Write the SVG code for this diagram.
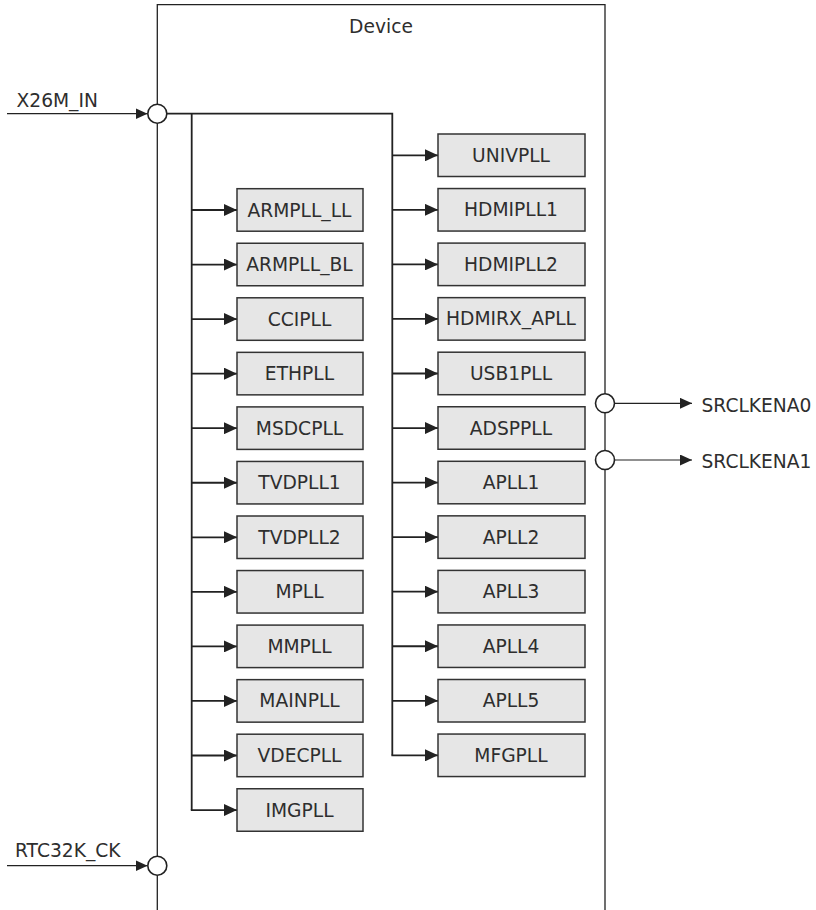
<svg xmlns="http://www.w3.org/2000/svg" width="816" height="910" viewBox="0 0 816 910">
<style>
text{font-family:"DejaVu Sans","Liberation Sans",sans-serif;font-size:18.67px;fill:#2e2e2e}
.box{fill:#e6e6e6;stroke:#333;stroke-width:1.5}
.lbl{text-anchor:middle}
.wire{fill:none;stroke:#222;stroke-width:1.8}
.thin{fill:none;stroke:#222;stroke-width:1.2}
.dev{fill:none;stroke:#222;stroke-width:1.3}
.port{fill:#fff;stroke:#222;stroke-width:1.6}
</style>
<defs>
<marker id="ah" markerUnits="userSpaceOnUse" markerWidth="13" markerHeight="12" refX="13" refY="6" orient="auto"><path d="M0,0 L13,6 L0,12 z" fill="#222"/></marker>
<marker id="ahs" markerUnits="userSpaceOnUse" markerWidth="12" markerHeight="11" refX="12" refY="5.5" orient="auto"><path d="M0,0 L12,5.5 L0,11 z" fill="#222"/></marker>
</defs>
<g id="device">
<path class="dev" d="M157.3,910 V4.7 H605 V910"/>
<text x="381" y="33" class="lbl">Device</text>
</g>
<g id="connectors">
<line class="thin" x1="7" y1="113.7" x2="147.5" y2="113.7" marker-end="url(#ahs)"/>
<line class="thin" x1="7" y1="865.7" x2="147.5" y2="865.7" marker-end="url(#ahs)"/>
<path class="wire" d="M166.5,113.7 H392.3 V755.3"/>
<path class="wire" d="M191.7,113.7 V810"/>
<line class="wire" x1="191.7" y1="210" x2="237" y2="210" marker-end="url(#ah)"/>
<line class="wire" x1="191.7" y1="264.55" x2="237" y2="264.55" marker-end="url(#ah)"/>
<line class="wire" x1="191.7" y1="319.1" x2="237" y2="319.1" marker-end="url(#ah)"/>
<line class="wire" x1="191.7" y1="373.65" x2="237" y2="373.65" marker-end="url(#ah)"/>
<line class="wire" x1="191.7" y1="428.2" x2="237" y2="428.2" marker-end="url(#ah)"/>
<line class="wire" x1="191.7" y1="482.75" x2="237" y2="482.75" marker-end="url(#ah)"/>
<line class="wire" x1="191.7" y1="537.3" x2="237" y2="537.3" marker-end="url(#ah)"/>
<line class="wire" x1="191.7" y1="591.85" x2="237" y2="591.85" marker-end="url(#ah)"/>
<line class="wire" x1="191.7" y1="646.4" x2="237" y2="646.4" marker-end="url(#ah)"/>
<line class="wire" x1="191.7" y1="700.95" x2="237" y2="700.95" marker-end="url(#ah)"/>
<line class="wire" x1="191.7" y1="755.5" x2="237" y2="755.5" marker-end="url(#ah)"/>
<line class="wire" x1="190.8" y1="810.05" x2="237" y2="810.05" marker-end="url(#ah)"/>
<line class="wire" x1="392.3" y1="155.3" x2="438" y2="155.3" marker-end="url(#ah)"/>
<line class="wire" x1="392.3" y1="209.85" x2="438" y2="209.85" marker-end="url(#ah)"/>
<line class="wire" x1="392.3" y1="264.4" x2="438" y2="264.4" marker-end="url(#ah)"/>
<line class="wire" x1="392.3" y1="318.95" x2="438" y2="318.95" marker-end="url(#ah)"/>
<line class="wire" x1="392.3" y1="373.5" x2="438" y2="373.5" marker-end="url(#ah)"/>
<line class="wire" x1="392.3" y1="428.05" x2="438" y2="428.05" marker-end="url(#ah)"/>
<line class="wire" x1="392.3" y1="482.6" x2="438" y2="482.6" marker-end="url(#ah)"/>
<line class="wire" x1="392.3" y1="537.15" x2="438" y2="537.15" marker-end="url(#ah)"/>
<line class="wire" x1="392.3" y1="591.7" x2="438" y2="591.7" marker-end="url(#ah)"/>
<line class="wire" x1="392.3" y1="646.25" x2="438" y2="646.25" marker-end="url(#ah)"/>
<line class="wire" x1="392.3" y1="700.8" x2="438" y2="700.8" marker-end="url(#ah)"/>
<line class="wire" x1="391.4" y1="755.35" x2="438" y2="755.35" marker-end="url(#ah)"/>
<line class="thin" x1="614" y1="403.3" x2="692" y2="403.3" marker-end="url(#ahs)"/>
<line class="thin" x1="614" y1="460" x2="692" y2="460" marker-end="url(#ahs)"/>
</g>
<g id="X26M_IN"><circle class="port" cx="157.3" cy="113.7" r="9.5"/><text x="16.5" y="106.5">X26M_IN</text></g>
<g id="RTC32K_CK"><circle class="port" cx="157.3" cy="865.7" r="9.5"/><text x="15" y="856.7">RTC32K_CK</text></g>
<g id="SRCLKENA0"><circle class="port" cx="605" cy="403.3" r="9.5"/><text x="701.5" y="411.5">SRCLKENA0</text></g>
<g id="SRCLKENA1"><circle class="port" cx="605" cy="460" r="9.5"/><text x="701.5" y="468">SRCLKENA1</text></g>
<g id="ARMPLL_LL"><rect class="box" x="237" y="188.7" width="126" height="42.5"/><text class="lbl" x="299.5" y="216.5">ARMPLL_LL</text></g>
<g id="ARMPLL_BL"><rect class="box" x="237" y="243.25" width="126" height="42.5"/><text class="lbl" x="299.5" y="271.05">ARMPLL_BL</text></g>
<g id="CCIPLL"><rect class="box" x="237" y="297.8" width="126" height="42.5"/><text class="lbl" x="299.5" y="325.6">CCIPLL</text></g>
<g id="ETHPLL"><rect class="box" x="237" y="352.35" width="126" height="42.5"/><text class="lbl" x="299.5" y="380.15">ETHPLL</text></g>
<g id="MSDCPLL"><rect class="box" x="237" y="406.9" width="126" height="42.5"/><text class="lbl" x="299.5" y="434.7">MSDCPLL</text></g>
<g id="TVDPLL1"><rect class="box" x="237" y="461.45" width="126" height="42.5"/><text class="lbl" x="299.5" y="489.25">TVDPLL1</text></g>
<g id="TVDPLL2"><rect class="box" x="237" y="516" width="126" height="42.5"/><text class="lbl" x="299.5" y="543.8">TVDPLL2</text></g>
<g id="MPLL"><rect class="box" x="237" y="570.55" width="126" height="42.5"/><text class="lbl" x="299.5" y="598.35">MPLL</text></g>
<g id="MMPLL"><rect class="box" x="237" y="625.1" width="126" height="42.5"/><text class="lbl" x="299.5" y="652.9">MMPLL</text></g>
<g id="MAINPLL"><rect class="box" x="237" y="679.65" width="126" height="42.5"/><text class="lbl" x="299.5" y="707.45">MAINPLL</text></g>
<g id="VDECPLL"><rect class="box" x="237" y="734.2" width="126" height="42.5"/><text class="lbl" x="299.5" y="762">VDECPLL</text></g>
<g id="IMGPLL"><rect class="box" x="237" y="788.75" width="126" height="42.5"/><text class="lbl" x="299.5" y="816.55">IMGPLL</text></g>
<g id="UNIVPLL"><rect class="box" x="438" y="134" width="147" height="42.5"/><text class="lbl" x="511" y="161.8">UNIVPLL</text></g>
<g id="HDMIPLL1"><rect class="box" x="438" y="188.55" width="147" height="42.5"/><text class="lbl" x="511" y="216.35">HDMIPLL1</text></g>
<g id="HDMIPLL2"><rect class="box" x="438" y="243.1" width="147" height="42.5"/><text class="lbl" x="511" y="270.9">HDMIPLL2</text></g>
<g id="HDMIRX_APLL"><rect class="box" x="438" y="297.65" width="147" height="42.5"/><text class="lbl" x="511" y="325.45">HDMIRX_APLL</text></g>
<g id="USB1PLL"><rect class="box" x="438" y="352.2" width="147" height="42.5"/><text class="lbl" x="511" y="380">USB1PLL</text></g>
<g id="ADSPPLL"><rect class="box" x="438" y="406.75" width="147" height="42.5"/><text class="lbl" x="511" y="434.55">ADSPPLL</text></g>
<g id="APLL1"><rect class="box" x="438" y="461.3" width="147" height="42.5"/><text class="lbl" x="511" y="489.1">APLL1</text></g>
<g id="APLL2"><rect class="box" x="438" y="515.85" width="147" height="42.5"/><text class="lbl" x="511" y="543.65">APLL2</text></g>
<g id="APLL3"><rect class="box" x="438" y="570.4" width="147" height="42.5"/><text class="lbl" x="511" y="598.2">APLL3</text></g>
<g id="APLL4"><rect class="box" x="438" y="624.95" width="147" height="42.5"/><text class="lbl" x="511" y="652.75">APLL4</text></g>
<g id="APLL5"><rect class="box" x="438" y="679.5" width="147" height="42.5"/><text class="lbl" x="511" y="707.3">APLL5</text></g>
<g id="MFGPLL"><rect class="box" x="438" y="734.05" width="147" height="42.5"/><text class="lbl" x="511" y="761.85">MFGPLL</text></g>
</svg>
